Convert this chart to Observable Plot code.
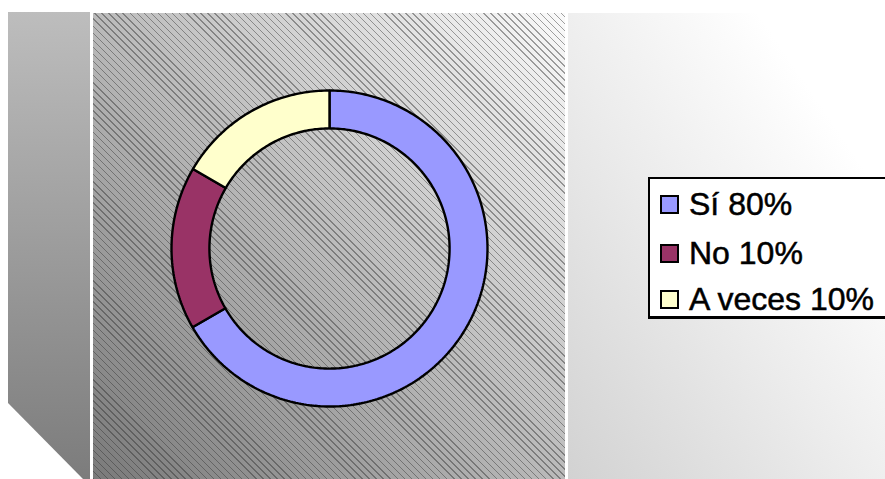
<!DOCTYPE html>
<html>
<head>
<meta charset="utf-8">
<script src="https://cdn.jsdelivr.net/npm/d3@7"></script>
<script src="https://cdn.jsdelivr.net/npm/@observablehq/plot@0.6"></script>
<style>
  html, body { margin: 0; padding: 0; background: #fff; }
  #wrap { position: relative; width: 885px; height: 479px; overflow: hidden; font-family: "Liberation Sans", Arial, sans-serif; }
  .leftwall { position: absolute; left: 8px; top: 12px; width: 82px; height: 467px;
    background: linear-gradient(to bottom, #bdbdbd, #7c7c7c);
    clip-path: polygon(0 0, 100% 0, 100% 100%, 75px 100%, 0 391px); }
  .backwall { position: absolute; left: 93px; top: 13px; width: 472px; height: 466px;
    background:
      repeating-linear-gradient(45deg, rgba(50,50,50,0.45) 0 1px, rgba(0,0,0,0) 1px 5px),
      linear-gradient(to top right, #7a7a7a 0%, #b4b4b4 45%, #fafafa 100%); }
  .rightwall { position: absolute; left: 568px; top: 13px; width: 317px; height: 466px;
    background: linear-gradient(to top right, #d2d2d2 0%, #ececec 45%, #ffffff 80%); }
  #chart { position: absolute; left: 0; top: 0; }
  .legend { position: absolute; left: 648px; top: 177px; width: 240px; height: 142px;
    border: 2px solid #000; border-bottom-width: 3px; background: #fff; box-sizing: border-box; }
  .item { position: absolute; left: 10px; height: 40px; display: flex; align-items: center; }
  .sw { width: 15px; height: 15px; border: 2px solid #000; margin-right: 10px; }
  .lab { font-size: 32px; color: #000; white-space: nowrap; -webkit-text-stroke: 0.5px #000; }
</style>
</head>
<body>
<div id="wrap">
  <div class="leftwall"></div>
  <div class="backwall"></div>
  <div class="rightwall"></div>
  <div id="chart"></div>
  <div class="legend" id="legend"></div>
</div>
<script>
// Data
const categories = ["Sí", "No", "A veces"];
const legendLabels = ["Sí 80%", "No 10%", "A veces 10%"];
const shares = [66.7, 16.7, 16.6]; // slice sizes as drawn in the picture
const colors = ["#9999FF", "#993366", "#FFFFCC"];
const innerRatio = 0.76;

// Build ring-segment outlines from the data
const arcs = d3.pie().sort(null)(shares);
const pts = [];
arcs.forEach((a, i) => {
  const n = Math.max(4, Math.ceil((a.endAngle - a.startAngle) / (Math.PI / 180)));
  for (let k = 0; k <= n; k++) {
    const t = a.startAngle + (a.endAngle - a.startAngle) * k / n;
    pts.push({cat: categories[i], x: Math.sin(t), y: Math.cos(t)});
  }
  for (let k = n; k >= 0; k--) {
    const t = a.startAngle + (a.endAngle - a.startAngle) * k / n;
    pts.push({cat: categories[i], x: innerRatio * Math.sin(t), y: innerRatio * Math.cos(t)});
  }
});

const chart = Plot.plot({
  width: 885,
  height: 479,
  margin: 0,
  style: {background: "none", overflow: "visible"},
  x: {domain: [-1, 1], range: [171, 487], axis: null},
  y: {domain: [-1, 1], range: [406, 90], axis: null},
  color: {domain: categories, range: colors},
  marks: [
    Plot.line(pts, {x: "x", y: "y", z: "cat", fill: "cat", stroke: "black", strokeWidth: 2.4, strokeLinejoin: "miter", curve: "linear-closed"})
  ]
});
document.getElementById("chart").appendChild(chart);

// Legend
const lg = document.getElementById("legend");
const tops = [5, 54, 100];
legendLabels.forEach((t, i) => {
  const it = document.createElement("div");
  it.className = "item";
  it.style.top = tops[i] + "px";
  it.innerHTML = `<div class="sw" style="background:${colors[i]}"></div><span class="lab">${t}</span>`;
  lg.appendChild(it);
});
</script>
</body>
</html>
